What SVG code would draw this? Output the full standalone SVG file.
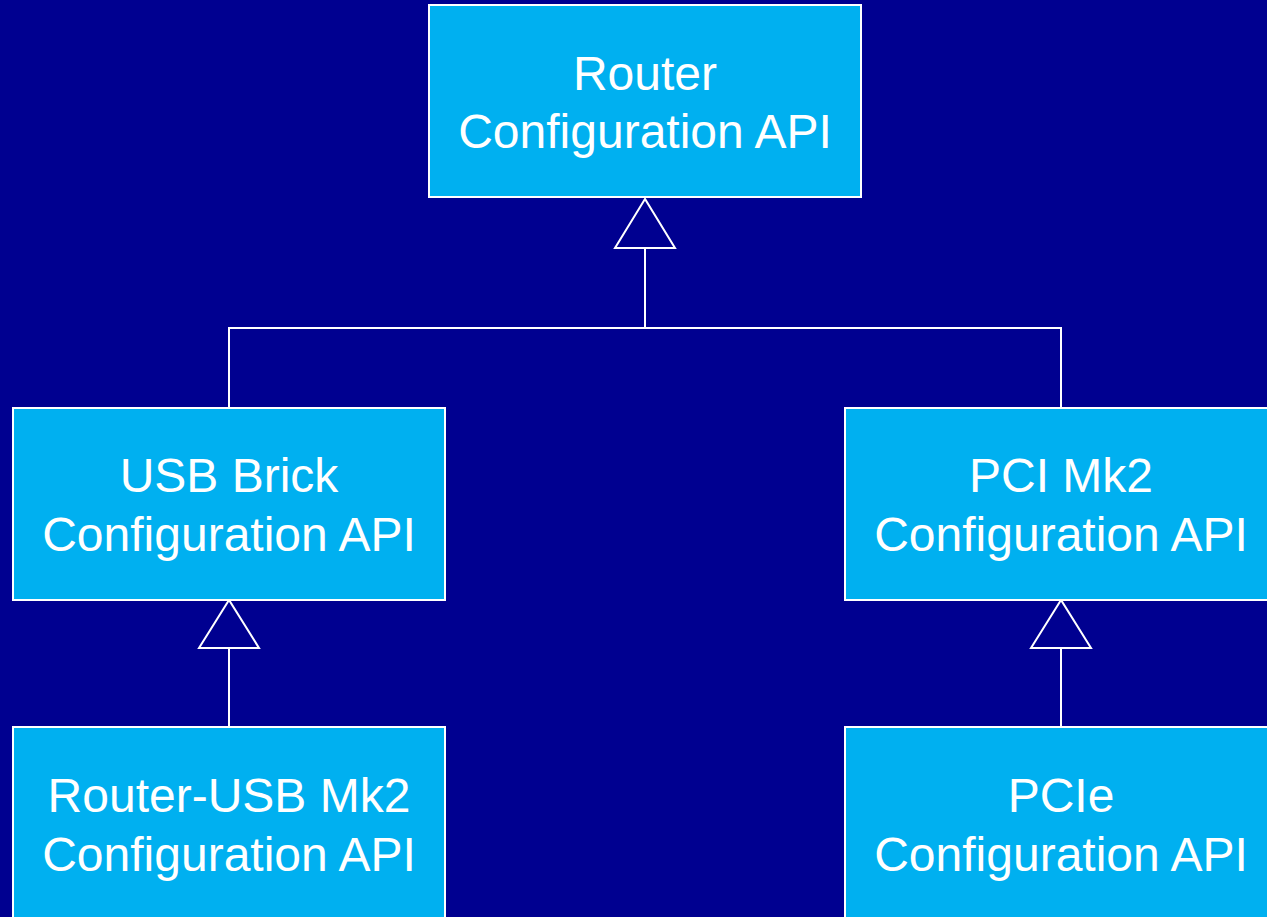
<svg xmlns="http://www.w3.org/2000/svg" width="1267" height="917" viewBox="0 0 1267 917">
<style>
.box{fill:#00B0F0;stroke:#FFFFFF;stroke-width:2}
.lbl{font-family:"Liberation Sans",Arial,sans-serif;font-size:48px;fill:#FFFFFF;text-anchor:middle}
.conn{fill:none;stroke:#FFFFFF;stroke-width:2}
.tri{fill:#000090;stroke:#FFFFFF;stroke-width:2}
</style>
<rect x="0" y="0" width="1267" height="917" fill="#000090"/>
<g id="connectors">
<path class="conn" d="M645 248 V328 M229 408 V328 H1061 V408"/>
<polygon class="tri" points="645,199 615,248 675,248"/>
<path class="conn" d="M229 648 V727"/>
<polygon class="tri" points="229,600 199,648 259,648"/>
<path class="conn" d="M1061 648 V727"/>
<polygon class="tri" points="1061,600 1031,648 1091,648"/>
</g>
<g id="router">
<rect class="box" x="429" y="5" width="432" height="192"/>
<text class="lbl" x="645" y="90">Router</text>
<text class="lbl" x="645" y="148">Configuration API</text>
</g>
<g id="usbbrick">
<rect class="box" x="13" y="408" width="432" height="192"/>
<text class="lbl" x="229" y="492">USB Brick</text>
<text class="lbl" x="229" y="551">Configuration API</text>
</g>
<g id="pcimk2">
<rect class="box" x="845" y="408" width="432" height="192"/>
<text class="lbl" x="1061" y="492">PCI Mk2</text>
<text class="lbl" x="1061" y="551">Configuration API</text>
</g>
<g id="routerusb">
<rect class="box" x="13" y="727" width="432" height="220"/>
<text class="lbl" x="229" y="812">Router-USB Mk2</text>
<text class="lbl" x="229" y="871">Configuration API</text>
</g>
<g id="pcie">
<rect class="box" x="845" y="727" width="432" height="220"/>
<text class="lbl" x="1061" y="812">PCIe</text>
<text class="lbl" x="1061" y="871">Configuration API</text>
</g>
</svg>
